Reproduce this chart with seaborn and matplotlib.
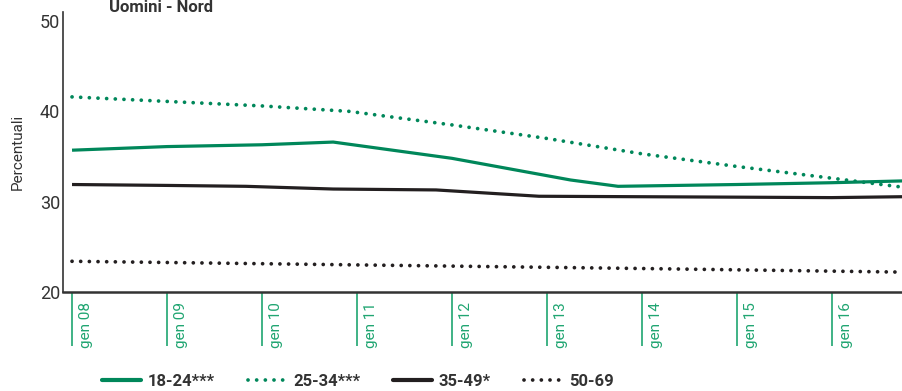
import pandas as pd
import seaborn as sns
import matplotlib
import matplotlib.pyplot as plt
from matplotlib.lines import Line2D
from matplotlib.transforms import offset_copy

matplotlib.use("Agg")

# months elapsed since gen 08
m_1824 = [0, 12, 24, 33, 48, 63, 69, 84, 96, 105]
v_1824 = [35.7, 36.1, 36.3, 36.6, 34.8, 32.4, 31.7, 31.9, 32.1, 32.3]

m_2534 = [0, 12, 24, 35, 48, 60, 72, 84, 96, 105]
v_2534 = [41.6, 41.1, 40.6, 40.0, 38.5, 37.0, 35.3, 33.9, 32.6, 31.6]

m_3549 = [0, 12, 22, 33, 46, 59, 84, 96, 105]
v_3549 = [31.9, 31.8, 31.7, 31.4, 31.3, 30.6, 30.5, 30.45, 30.55]

m_5069 = [0, 36, 72, 105]
v_5069 = [23.4, 23.0, 22.6, 22.2]

groups = ["18-24***", "25-34***", "35-49*", "50-69"]
tick_months = [0, 12, 24, 36, 48, 60, 72, 84, 96]
tick_labels = ["gen 08", "gen 09", "gen 10", "gen 11", "gen 12",
               "gen 13", "gen 14", "gen 15", "gen 16"]

GREEN = "#00875A"
TICKGREEN = "#1FA571"
BLACK = "#231F20"
GRAY = "#333333"

sns.set_style("white")
plt.rcParams["font.family"] = ["Roboto", "DejaVu Sans"]

frames = []
for g, m, v in zip(groups, [m_1824, m_2534, m_3549, m_5069],
                   [v_1824, v_2534, v_3549, v_5069]):
    frames.append(pd.DataFrame({"mese": m, "valore": v, "gruppo": g}))
df = pd.concat(frames, ignore_index=True)

palette = {groups[0]: GREEN, groups[1]: GREEN, groups[2]: BLACK, groups[3]: BLACK}
dashes = {groups[0]: "", groups[1]: (0.01, 2.3),
          groups[2]: "", groups[3]: (0.01, 2.3)}

fig = plt.figure(figsize=(9.03, 3.91), dpi=100)
ax = fig.add_axes([63 / 903, 99 / 391, 840 / 903, 280 / 391])

sns.lineplot(data=df, x="mese", y="valore", hue="gruppo", style="gruppo",
             palette=palette, dashes=dashes, estimator=None, linewidth=2.3,
             legend=False, ax=ax)
for ln in ax.lines:
    ln.set_dash_capstyle("round")
    ln.set_solid_capstyle("butt")
    if ln.get_linestyle() != "-":
        ln.set_linewidth(2.7)

ax.set_xlim(-1.14, 105)
ax.set_ylim(20, 51)
ax.set_yticks([20, 30, 40, 50])
ax.tick_params(axis="y", left=False, length=0, pad=2, labelsize=13, labelcolor=GRAY)
ax.set_xticks(tick_months)
ax.set_xticklabels([])
ax.tick_params(axis="x", bottom=True, length=39, width=1.2, color=TICKGREEN,
               direction="out")
ax.set_xlabel("")
ax.set_ylabel("Percentuali", fontsize=11, color=GRAY)
ax.yaxis.set_label_coords(-0.045, 0.5)

sns.despine(ax=ax)
ax.spines["left"].set_color(GRAY)
ax.spines["left"].set_linewidth(1.2)
ax.spines["bottom"].set_color(GRAY)
ax.spines["bottom"].set_linewidth(1.8)

trans = offset_copy(ax.get_xaxis_transform(), fig=fig, x=14, y=-10, units="dots")
for m, lab in zip(tick_months, tick_labels):
    ax.text(m, 0, lab, transform=trans, rotation=90, ha="center", va="top",
            fontsize=11, color=TICKGREEN)

fig.text(161 / 903, 1 - 8 / 391, "Uomini - Nord", ha="center", va="center",
         fontsize=12, fontweight="bold", color=GRAY)

handles = [
    Line2D([], [], color=GREEN, lw=3),
    Line2D([], [], color=GREEN, lw=2.7, dashes=(0.01, 2.3), dash_capstyle="round"),
    Line2D([], [], color=BLACK, lw=3),
    Line2D([], [], color=BLACK, lw=2.7, dashes=(0.01, 2.3), dash_capstyle="round"),
]
leg = fig.legend(handles, groups, loc="center", bbox_to_anchor=(358 / 903, 10 / 391),
                 ncol=4, frameon=False, handlelength=2.3, handletextpad=0.4,
                 columnspacing=2.0, prop={"weight": "bold", "size": 12})
for t in leg.get_texts():
    t.set_color(GRAY)

fig.savefig("out.png", dpi=100)
